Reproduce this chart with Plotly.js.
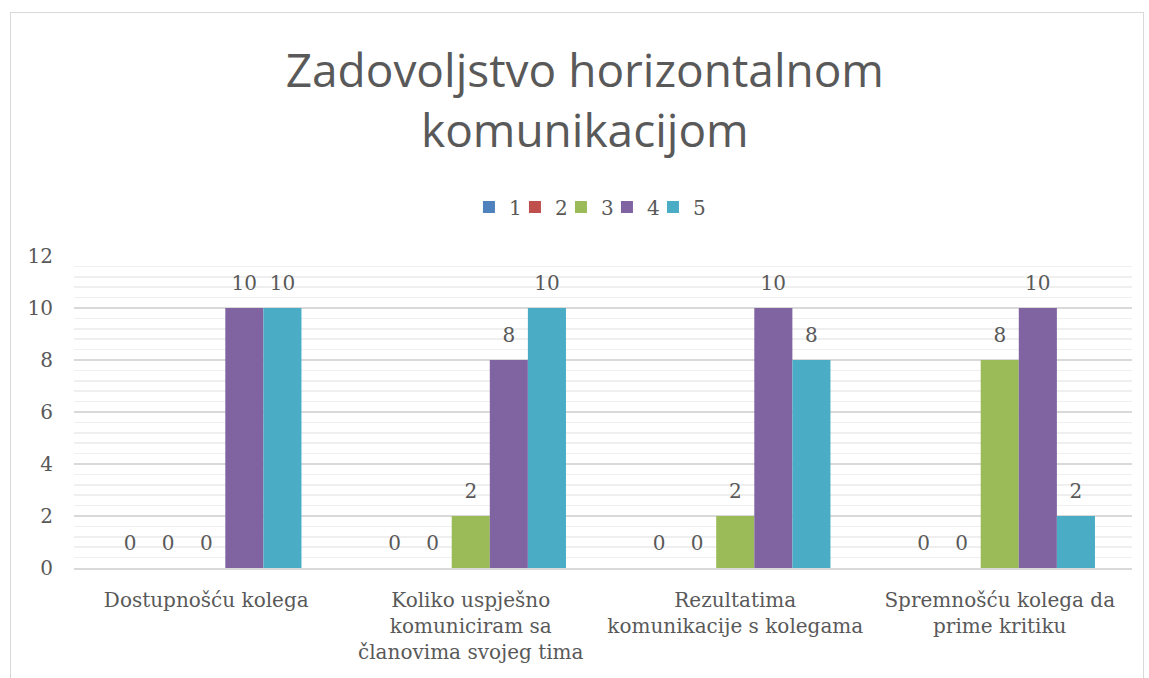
<!DOCTYPE html>
<html>
<head>
<meta charset="utf-8">
<script src="https://cdn.plot.ly/plotly-3.0.1.min.js"></script>
<style>
  html, body { margin: 0; padding: 0; background: #fff; }
  #wrap { position: relative; width: 1149px; height: 678px; overflow: hidden; }
  #frame { position: absolute; left: 10px; top: 12px; width: 1134px; height: 700px; border: 1.5px solid #d9d9d9; box-sizing: border-box; }
  #chart { position: absolute; left: 0; top: 0; width: 1149px; height: 678px; }
</style>
</head>
<body>
<div id="wrap"><div id="frame"></div><div id="chart"></div></div>
<script>
const categories = [
  "Dostupnošću kolega",
  "Koliko uspješno<br>komuniciram sa<br>članovima svojeg tima",
  "Rezultatima<br>komunikacije s kolegama",
  "Spremnošću kolega da<br>prime kritiku"
];
const seriesNames = ["1", "2", "3", "4", "5"];
const s1 = [0, 0, 0, 0];
const s2 = [0, 0, 0, 0];
const s3 = [0, 2, 2, 8];
const s4 = [10, 8, 10, 10];
const s5 = [10, 10, 8, 2];
// which labels are shown
const s1Labels = [true, true, true, true];
const s2Labels = [true, true, true, true];
const s3Labels = [true, true, true, true];
const s4Labels = [true, true, true, true];
const s5Labels = [true, true, true, true];
const colors = ["#4F81BD", "#C0504D", "#9BBB59", "#8064A2", "#4BACC6"];

const allValues = [s1, s2, s3, s4, s5];
const allLabels = [s1Labels, s2Labels, s3Labels, s4Labels, s5Labels];
const txtFont = {family: "DejaVu Serif", size: 20, color: "#595959"};

const barTraces = allValues.map((vals, i) => ({
  type: "bar",
  name: seriesNames[i],
  x: categories,
  y: vals,
  offsetgroup: "g" + i,
  marker: {color: colors[i], line: {width: 0}},
  hoverinfo: "x+y+name"
}));

const labelTraces = allValues.map((vals, i) => ({
  type: "scatter",
  mode: "markers+text",
  orientation: "v",
  offsetgroup: "g" + i,
  showlegend: false,
  x: categories,
  y: vals,
  text: vals.map((v, j) => allLabels[i][j] ? String(v) : ""),
  textposition: "top center",
  textfont: txtFont,
  marker: {size: 20, opacity: 0, color: colors[i]},
  cliponaxis: false,
  hoverinfo: "skip"
}));

const layout = {
  width: 1149,
  height: 678,
  paper_bgcolor: "rgba(0,0,0,0)",
  plot_bgcolor: "rgba(0,0,0,0)",
  margin: {l: 74, r: 17, t: 256, b: 110},
  barmode: "group",
  bargap: 0.28,
  bargroupgap: 0,
  scattermode: "group",
  scattergap: 0.28,
  title: {
    text: "Zadovoljstvo horizontalnom<br>komunikacijom",
    font: {family: "Open Sans", size: 46, color: "#595959", weight: 400},
    x: 0.509, xanchor: "center",
    y: 0.872, yanchor: "middle",
    xref: "container", yref: "container"
  },
  showlegend: true,
  legend: {
    orientation: "h",
    x: 0.482, xanchor: "center",
    y: 1.157, yanchor: "middle",
    font: txtFont,
    itemwidth: 30,
    entrywidth: 1,
    traceorder: "normal"
  },
  xaxis: {
    type: "category",
    showgrid: false,
    showline: true,
    linecolor: "#d9d9d9",
    linewidth: 1.5,
    ticks: "",
    tickfont: txtFont,
    ticklabelstandoff: 13,
    automargin: false
  },
  yaxis: {
    range: [0, 12],
    dtick: 2,
    tick0: 0,
    showgrid: true,
    gridcolor: "#d9d9d9",
    gridwidth: 1.5,
    zeroline: false,
    showline: false,
    ticks: "",
    ticklen: 0,
    tickfont: txtFont,
    ticklabelstandoff: 20,
    automargin: false,
    minor: {dtick: 0.4, tick0: 0, showgrid: true, gridcolor: "#efefef", gridwidth: 1.5}
  },
  font: {family: "DejaVu Serif", color: "#595959"}
};

Plotly.newPlot("chart", barTraces.concat(labelTraces), layout, {displayModeBar: false, staticPlot: true}).then(function () {
  // let the last legend label overflow its tight entry box
  document.querySelectorAll("#chart .legend [clip-path]").forEach(function (el) {
    el.removeAttribute("clip-path");
  });
});
</script>
</body>
</html>
